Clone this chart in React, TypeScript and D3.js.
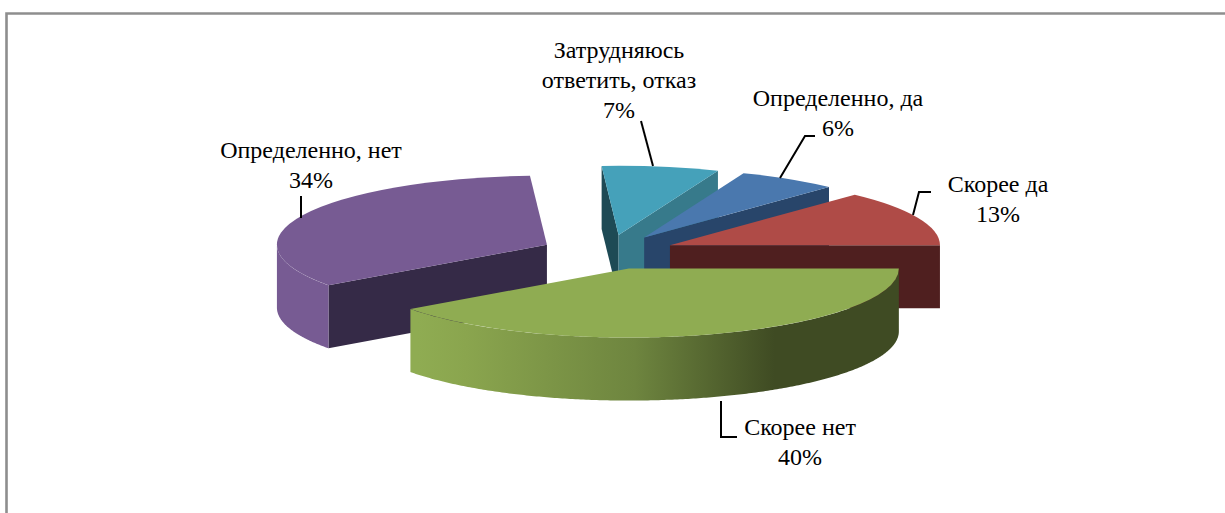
import React from 'react';
import * as d3 from 'd3';

const categories = ['Определенно, да', 'Скорее да', 'Скорее нет', 'Определенно, нет', 'Затрудняюсь ответить, отказ'];
const values = [6, 13, 40, 34, 7];
const topColors = ['#4a78ae', '#af4b47', '#8fac52', '#775b93', '#45a1ba'];
const startWallColors = ['#28456a', '#4f1f1f', '#3f4b23', '#352a47', '#1e4a55'];
const endWallColors = ['#28456a', '#4f1f1f', '#3f4b23', '#352a47', '#377a8b'];

const width = 1225;
const height = 513;
const cx = 608;
const cy = 252;
const radius = 270;
const tilt = 0.256;
const explode = 67.5;
const depth = 63;
const firstAngle = (21.6 * Math.PI) / 180;

// hand placed label boxes and leader lines
const labels = [
  { lines: ['Определенно, да', '6%'], x: 838, y: 106, leader: [[815, 136], [805, 136], [780, 178]] },
  { lines: ['Скорее да', '13%'], x: 998, y: 192, leader: [[931, 192], [919, 192], [913, 215]] },
  { lines: ['Скорее нет', '40%'], x: 800, y: 435, leader: [[737, 437], [721, 437], [721, 401]] },
  { lines: ['Определенно, нет', '34%'], x: 311, y: 158, leader: [[301, 196], [301, 218]] },
  { lines: ['Затрудняюсь', 'ответить, отказ', '7%'], x: 619, y: 58, leader: [[641, 121], [653, 166]] },
];

const pie = d3.pie<number>().sort(null).startAngle(firstAngle).endAngle(firstAngle + 2 * Math.PI);
const arc = d3.arc<d3.PieArcDatum<number>>().innerRadius(0).outerRadius(radius);
const polyline = d3.line();

const project = (a: number, r: number, ox: number, oy: number, dz = 0): [number, number] => [
  ox + r * Math.sin(a),
  oy - r * Math.cos(a) * tilt + dz,
];

function App() {
  const slices = pie(values).map((s, i) => {
    const mid = (s.startAngle + s.endAngle) / 2;
    return { s, i, ox: cx + explode * Math.sin(mid), oy: cy - explode * Math.cos(mid) * tilt };
  });
  const ordered = [...slices].sort((a, b) => a.oy - b.oy);

  const wall = (a: number, ox: number, oy: number) =>
    polyline([project(a, 0, ox, oy), project(a, radius, ox, oy), project(a, radius, ox, oy, depth), project(a, 0, ox, oy, depth)]) + 'Z';

  const rim = (a0: number, a1: number, ox: number, oy: number) => {
    const from = Math.max(a0, Math.PI / 2);
    const to = Math.min(a1, 1.5 * Math.PI);
    if (to <= from) return null;
    const steps = d3.range(from, to, 0.01).concat(to);
    const top = steps.map((a) => project(a, radius, ox, oy));
    const bottom = steps.map((a) => project(a, radius, ox, oy, depth)).reverse();
    return polyline([...top, ...bottom]) + 'Z';
  };

  return (
    <svg width={width} height={height} style={{ position: 'absolute', left: 0, top: 0, background: '#fff' }}>
      <defs>
        <linearGradient id="rim2" gradientUnits="userSpaceOnUse" x1={418} x2={900} y1={0} y2={0}>
          <stop offset="0" stopColor="#8fac52" />
          <stop offset="0.1" stopColor="#8aa54e" />
          <stop offset="0.45" stopColor="#6e853f" />
          <stop offset="0.74" stopColor="#3f4b23" />
          <stop offset="1" stopColor="#3f4b23" />
        </linearGradient>
      </defs>
      <path d="M6.5,513V13.5H1225" fill="none" stroke="#8e8e8e" strokeWidth={2.6} />
      {ordered.map(({ s, i, ox, oy }) => {
        const rimPath = rim(s.startAngle, s.endAngle, ox, oy);
        return (
          <g key={categories[i]}>
            {Math.sin(s.startAngle) < 0 && <path d={wall(s.startAngle, ox, oy)} fill={startWallColors[i]} />}
            {Math.sin(s.endAngle) > 0 && <path d={wall(s.endAngle, ox, oy)} fill={endWallColors[i]} />}
            {rimPath && <path d={rimPath} fill={i === 2 ? 'url(#rim2)' : topColors[i]} />}
            <path d={arc(s) as string} fill={topColors[i]} transform={`translate(${ox},${oy}) scale(1,${tilt})`} />
          </g>
        );
      })}
      {labels.map((l) => (
        <g key={l.lines[0]}>
          <path d={polyline(l.leader as [number, number][]) as string} fill="none" stroke="#000" strokeWidth={2} />
          <text x={l.x} y={l.y} textAnchor="middle" fontFamily="Liberation Serif" fontSize={24} fill="#000">
            {l.lines.map((t, j) => (
              <tspan key={t} x={l.x} dy={j === 0 ? 0 : 30}>{t}</tspan>
            ))}
          </text>
        </g>
      ))}
    </svg>
  );
}

export default App;
